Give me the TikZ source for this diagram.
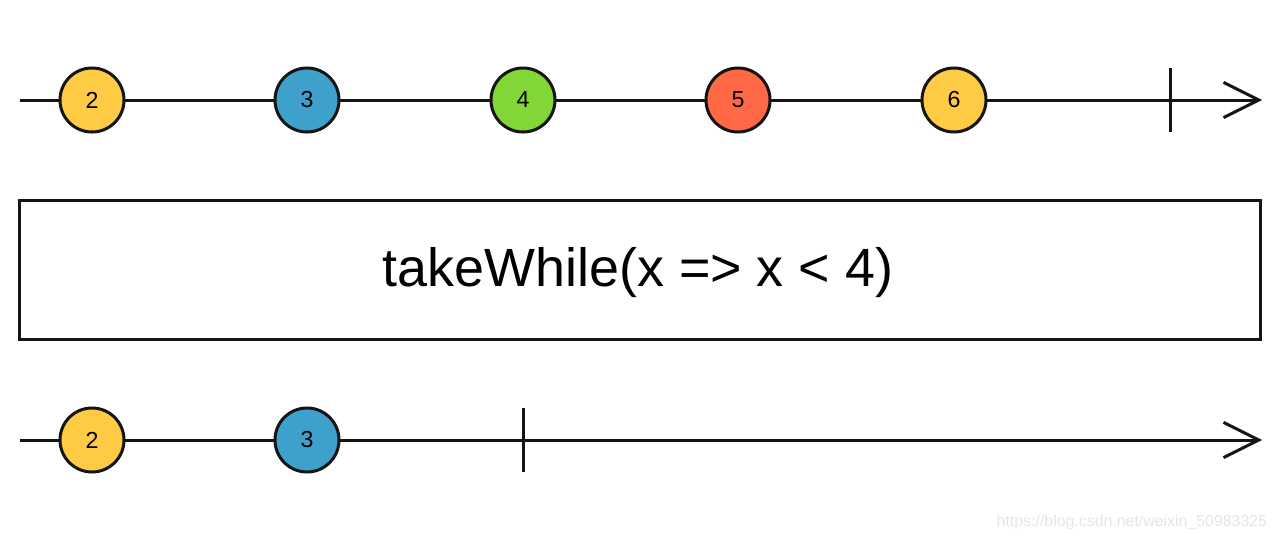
\documentclass[tikz,border=0pt]{standalone}
\usepackage{fontspec}
\setmainfont{Liberation Sans}
\usetikzlibrary{positioning, arrows.meta}

\definecolor{marbleyellow}{HTML}{FFCA44}
\definecolor{marbleblue}{HTML}{3EA1CB}
\definecolor{marblegreen}{HTML}{82D736}
\definecolor{marblered}{HTML}{FF6946}
\definecolor{ink}{HTML}{151515}

\begin{document}
\begin{tikzpicture}[
    x=0.025cm, y=-0.025cm,
    marble/.style={circle, draw=ink, line width=0.075cm, minimum size=1.6cm,
                   inner sep=0pt, font=\fontsize{16.5}{16.5}\selectfont},
    timeline/.style={draw=ink, line width=0.075cm,
                     -{Straight Barb[length=0.88cm, width=0.88cm, line width=0.075cm]}},
    tick/.style={draw=ink, line width=0.075cm},
    opbox/.style={rectangle, draw=ink, line width=0.075cm, minimum width=31cm,
                  minimum height=3.45cm},
    optext/.style={font=\fontsize{38.3}{38.3}\selectfont, inner sep=0pt}
]
    \useasboundingbox (0,0) rectangle (1280,540);

    % Input timeline
    \coordinate (instart) at (20,100);
    \coordinate (inend) at (1262,100);
    \draw[timeline] (instart) -- (inend);
    \node[marble, fill=marbleyellow] (in2) at (92,100) {2};
    \node[marble, fill=marbleblue] (in3) at (307,100) {3};
    \node[marble, fill=marblegreen] (in4) at (523,100) {4};
    \node[marble, fill=marblered] (in5) at (738,100) {5};
    \node[marble, fill=marbleyellow] (in6) at (954,100) {6};
    \coordinate (intop) at (1170,68);
    \coordinate (inbot) at (1170,132);
    \draw[tick] (intop) -- (inbot);

    % Operator
    \node[opbox] (op) at (640,270) {};
    \node[optext] (optitle) at (638,273) {takeWhile(x => x < 4)};

    % Output timeline
    \coordinate (outstart) at (20,440);
    \coordinate (outend) at (1262,440);
    \draw[timeline] (outstart) -- (outend);
    \node[marble, fill=marbleyellow] (out2) at (92,440) {2};
    \node[marble, fill=marbleblue] (out3) at (307,440) {3};
    \coordinate (outtop) at (523,408);
    \coordinate (outbot) at (523,472);
    \draw[tick] (outtop) -- (outbot);

    % Watermark
    \node[text=black!10, font=\fontsize{11.3}{11.3}\selectfont, anchor=east] (mark) at (1272,522) {https://blog.csdn.net/weixin\_50983325};

\end{tikzpicture}
\end{document}
